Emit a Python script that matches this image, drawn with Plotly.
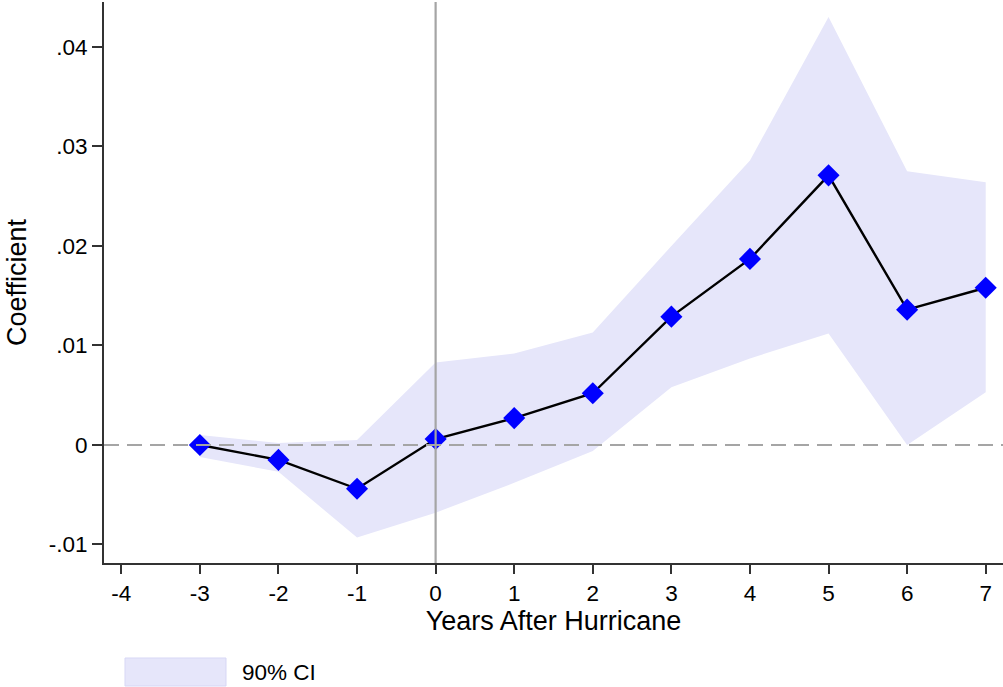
import plotly.graph_objects as go

years = [-3, -2, -1, 0, 1, 2, 3, 4, 5, 6, 7]
coef = [0.0000, -0.0015, -0.0044, 0.0006, 0.0027, 0.0052, 0.0129, 0.0187, 0.0271, 0.0136, 0.0158]
ci_upper = [0.0010, 0.0002, 0.0005, 0.0083, 0.0092, 0.0113, 0.0200, 0.0286, 0.0430, 0.0275, 0.0264]
ci_lower = [-0.0012, -0.0027, -0.0093, -0.0068, -0.0038, -0.0006, 0.0058, 0.0087, 0.0112, 0.0000, 0.0053]

x_ticks = [-4, -3, -2, -1, 0, 1, 2, 3, 4, 5, 6, 7]
x_ticklabels = ["-4", "-3", "-2", "-1", "0", "1", "2", "3", "4", "5", "6", "7"]
y_ticks = [-0.01, 0, 0.01, 0.02, 0.03, 0.04]
y_ticklabels = ["-.01", "0", ".01", ".02", ".03", ".04"]

ci_color = "rgb(230,230,250)"
font = "Liberation Sans, Arial, Helvetica, sans-serif"

fig = go.Figure()
fig.add_trace(go.Scatter(x=years + years[::-1], y=ci_upper + ci_lower[::-1],
                         fill="toself", fillcolor=ci_color, line=dict(width=0, color=ci_color),
                         mode="lines", hoverinfo="skip", showlegend=False))
fig.add_hline(y=0, line=dict(color="rgb(165,165,165)", width=2.2, dash="15px,8px"))
fig.add_vline(x=0, line=dict(color="rgb(165,165,165)", width=2.2))
fig.add_trace(go.Scatter(x=years, y=coef, mode="lines+markers",
                         line=dict(color="black", width=2.4),
                         marker=dict(symbol="diamond", size=17, color="blue"),
                         showlegend=False))

fig.update_layout(
    width=1003, height=687,
    margin=dict(l=104, r=0, t=2, b=124),
    plot_bgcolor="white", paper_bgcolor="white",
    font=dict(family=font, size=22.5, color="black"),
    xaxis=dict(range=[-4.22, 7.22], tickvals=x_ticks, ticktext=x_ticklabels,
               showgrid=False, zeroline=False,
               showline=True, linecolor="rgb(50,50,50)", linewidth=2,
               ticks="outside", ticklen=9, tickwidth=2, tickcolor="rgb(50,50,50)",
               title=dict(text="Years After Hurricane", standoff=2)),
    yaxis=dict(range=[-0.01186, 0.04452], tickvals=y_ticks, ticktext=y_ticklabels,
               showgrid=False, zeroline=False,
               showline=True, linecolor="rgb(50,50,50)", linewidth=2,
               ticks="outside", ticklen=10, tickwidth=2, tickcolor="rgb(50,50,50)",
               title=dict(text="Coefficient", standoff=14)),
)

fig.add_shape(type="rect", xref="paper", yref="paper",
              x0=(125 - 104) / 899, x1=(226 - 104) / 899,
              y0=(563 - 686) / 561, y1=(563 - 658) / 561,
              fillcolor=ci_color, line=dict(color="rgb(215,215,245)", width=1))
fig.add_annotation(xref="paper", yref="paper", x=(240 - 104) / 899, y=(563 - 672) / 561,
                   text="90% CI", showarrow=False, xanchor="left", yanchor="middle",
                   font=dict(size=22.5))

fig.write_html("out.html")
